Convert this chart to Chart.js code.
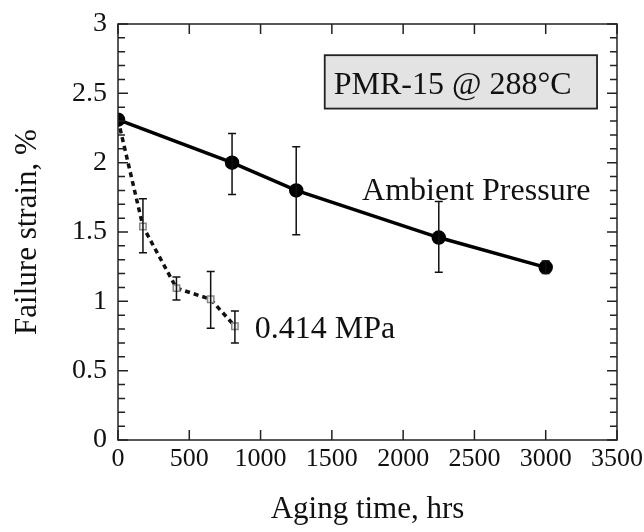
<!DOCTYPE html>
<html>
<head>
<meta charset="utf-8">
<script src="https://cdn.jsdelivr.net/npm/chart.js@4/dist/chart.umd.min.js"></script>
<style>
  html, body { margin: 0; padding: 0; background: #fff; }
  #wrap { width: 644px; height: 532px; }
</style>
</head>
<body>
<div id="wrap"><canvas id="chart" width="644" height="532"></canvas></div>
<script>
// valores
const ambientHours = [0, 800, 1250, 2250, 3000];
const ambientStrain = [2.31, 2.0, 1.8, 1.46, 1.245];
const ambientLow = [2.31, 1.77, 1.48, 1.21, 1.20];
const ambientHigh = [2.31, 2.21, 2.115, 1.72, 1.29];

const mpaHours = [0, 175, 410, 650, 820];
const mpaStrain = [2.31, 1.54, 1.095, 1.015, 0.82];
const mpaLow = [2.31, 1.35, 1.01, 0.805, 0.70];
const mpaHigh = [2.31, 1.74, 1.175, 1.215, 0.93];

const xTicks = [0, 500, 1000, 1500, 2000, 2500, 3000, 3500];
const yTicks = [0, 0.5, 1, 1.5, 2, 2.5, 3];

const serif = "'Liberation Serif', 'DejaVu Serif', serif";

function toPoints(xs, ys) {
    return xs.map((x, i) => ({ x: x, y: ys[i] }));
}

// barras de erro, moldura, ticks internos e textos
const extras = {
    id: 'extras',
    afterDatasetsDraw(chart) {
        const ctx = chart.ctx;
        const xs = chart.scales.x;
        const ys = chart.scales.y;
        const a = chart.chartArea;

        ctx.save();
        ctx.strokeStyle = '#111';
        ctx.lineWidth = 1.5;

        function errorBars(hours, low, high) {
            hours.forEach((h, i) => {
                if (low[i] === high[i]) return;
                const px = xs.getPixelForValue(h);
                const top = ys.getPixelForValue(high[i]);
                const bot = ys.getPixelForValue(low[i]);
                ctx.beginPath();
                ctx.moveTo(px, top); ctx.lineTo(px, bot);
                ctx.moveTo(px - 4, top); ctx.lineTo(px + 4, top);
                ctx.moveTo(px - 4, bot); ctx.lineTo(px + 4, bot);
                ctx.stroke();
            });
        }
        errorBars(ambientHours, ambientLow, ambientHigh);
        errorBars(mpaHours, mpaLow, mpaHigh);

        // moldura
        ctx.lineWidth = 1.5;
        ctx.strokeStyle = '#222';
        ctx.strokeRect(a.left, a.top, a.right - a.left, a.bottom - a.top);

        // ticks do eixo x (embaixo e em cima)
        xTicks.forEach(v => {
            const px = xs.getPixelForValue(v);
            ctx.beginPath();
            ctx.moveTo(px, a.bottom); ctx.lineTo(px, a.bottom - 10);
            ctx.moveTo(px, a.top); ctx.lineTo(px, a.top + 10);
            ctx.stroke();
        });
        // ticks do eixo y, menores a cada 0.1
        for (let k = 0; k <= 30; k++) {
            const py = ys.getPixelForValue(k / 10);
            const len = k % 5 === 0 ? 10 : 7;
            ctx.beginPath();
            ctx.moveTo(a.left, py); ctx.lineTo(a.left + len, py);
            ctx.moveTo(a.right, py); ctx.lineTo(a.right - len, py);
            ctx.stroke();
        }

        // caixa do título
        const bx1 = xs.getPixelForValue(1450), bx2 = xs.getPixelForValue(3360);
        const by1 = ys.getPixelForValue(2.775), by2 = ys.getPixelForValue(2.39);
        ctx.fillStyle = '#e3e3e3';
        ctx.fillRect(bx1, by1, bx2 - bx1, by2 - by1);
        ctx.lineWidth = 1.8;
        ctx.strokeStyle = '#222';
        ctx.strokeRect(bx1, by1, bx2 - bx1, by2 - by1);

        ctx.fillStyle = '#111';
        ctx.font = '32px ' + serif;
        ctx.textBaseline = 'alphabetic';
        ctx.textAlign = 'left';
        ctx.fillText('PMR-15 @ 288\u00B0C', bx1 + 9, by2 - 15);

        ctx.fillText('Ambient Pressure', xs.getPixelForValue(1712), ys.getPixelForValue(1.73));
        ctx.fillText('0.414 MPa', xs.getPixelForValue(960), ys.getPixelForValue(0.735));
        ctx.restore();
    }
};

new Chart(document.getElementById('chart'), {
    type: 'scatter',
    data: {
        datasets: [{
            label: 'Ambient Pressure',
            data: toPoints(ambientHours, ambientStrain),
            showLine: true,
            borderColor: '#000',
            borderWidth: 3.5,
            pointStyle: 'circle',
            pointRadius: 5.5,
            pointBackgroundColor: '#000',
            pointBorderColor: '#000'
        }, {
            label: '0.414 MPa',
            data: toPoints(mpaHours, mpaStrain),
            showLine: true,
            borderColor: '#111',
            borderWidth: 3.5,
            borderDash: [5, 4],
            pointStyle: 'rect',
            pointRadius: 4.5,
            pointBackgroundColor: '#f4f4f4',
            pointBorderColor: '#888',
            pointBorderWidth: 1.5
        }]
    },
    options: {
        responsive: false,
        animation: false,
        layout: { padding: { top: 24, right: 27, left: 0, bottom: 0 } },
        plugins: { legend: { display: false }, tooltip: { enabled: false } },
        scales: {
            x: {
                type: 'linear',
                min: 0, max: 3500,
                afterFit: s => { s.height = 92; s.paddingLeft = 0; s.paddingRight = 0; },
                afterBuildTicks: s => { s.ticks = xTicks.map(v => ({ value: v })); },
                grid: { display: false, drawTicks: false },
                border: { display: false },
                ticks: { color: '#111', padding: 4, font: { family: serif, size: 26 }, maxRotation: 0, callback: v => String(v) },
                title: { display: true, text: 'Aging time, hrs', color: '#111', font: { family: serif, size: 31 }, padding: { top: 14 } }
            },
            y: {
                type: 'linear',
                min: 0, max: 3,
                afterFit: s => { s.width = 118; s.paddingTop = 0; s.paddingBottom = 0; },
                afterBuildTicks: s => { s.ticks = yTicks.map(v => ({ value: v })); },
                grid: { display: false, drawTicks: false },
                border: { display: false },
                ticks: { color: '#111', padding: 11, font: { family: serif, size: 28 }, callback: v => String(v) },
                title: { display: true, text: 'Failure strain, %', color: '#111', font: { family: serif, size: 31 }, padding: { top: 9, bottom: 0 } }
            }
        }
    },
    plugins: [extras]
});
</script>
</body>
</html>
